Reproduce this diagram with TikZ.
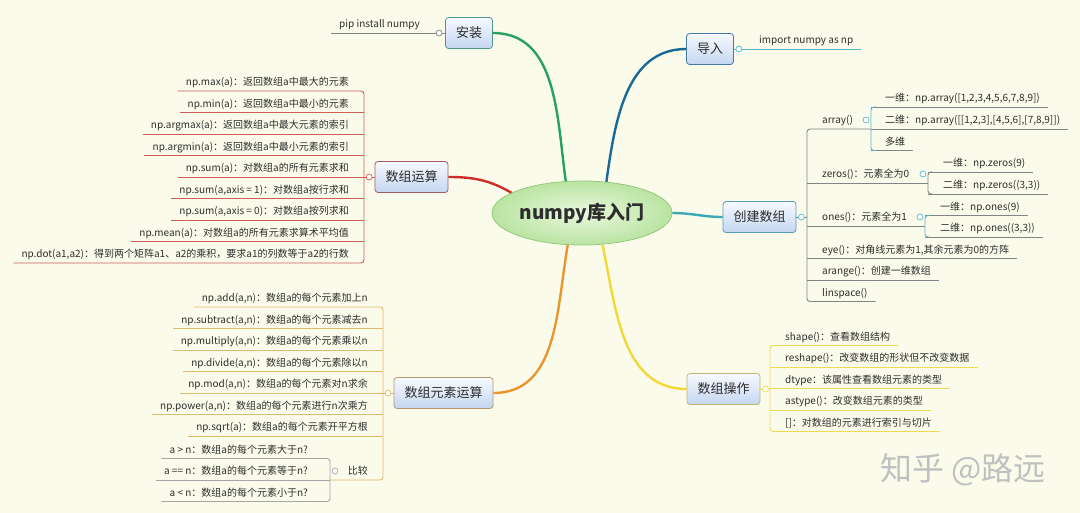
\documentclass[tikz,border=0pt]{standalone}
\usepackage{fontspec}
\setmainfont{Noto Sans CJK SC}
\usetikzlibrary{shapes.geometric,calc}

\definecolor{bg}{RGB}{251,251,235}
\definecolor{txt}{RGB}{45,45,45}
\definecolor{boxtop}{RGB}{247,250,255}
\definecolor{boxbot}{RGB}{196,214,240}
\definecolor{boxedge}{RGB}{120,145,185}
\definecolor{rootedge}{RGB}{150,200,128}
\definecolor{rootin}{RGB}{234,248,222}
\definecolor{rootout}{RGB}{186,228,162}
\definecolor{cInstall}{RGB}{40,160,95}
\definecolor{cImport}{RGB}{25,105,150}
\definecolor{cCreate}{RGB}{55,170,180}
\definecolor{cCalc}{RGB}{205,45,40}
\definecolor{cElem}{RGB}{235,150,45}
\definecolor{cOps}{RGB}{245,215,55}
\definecolor{lGray}{RGB}{130,132,135}
\definecolor{lLight}{RGB}{165,165,165}
\definecolor{lTeal}{RGB}{85,185,200}
\definecolor{lRed}{RGB}{205,95,85}
\definecolor{lTan}{RGB}{222,186,108}
\definecolor{lYellow}{RGB}{240,218,85}
\definecolor{wmark}{RGB}{192,192,192}

\tikzset{
  root/.style={ellipse, draw=rootedge, line width=0.8pt, inner color=rootin, outer color=rootout,
    minimum width=180pt, minimum height=64pt, inner sep=0pt, font=\fontsize{19}{22}\selectfont\bfseries},
  topic/.style={draw=#1!55!boxedge, line width=0.8pt, rounded corners=3pt, top color=boxtop, bottom color=boxbot,
    minimum height=31pt, inner xsep=10.5pt, font=\fontsize{13}{15}\selectfont},
  leaf/.style={inner xsep=8pt, inner ysep=3pt, text height=8pt, text depth=2pt},
  fold/.style={circle, draw=#1, fill=white, line width=0.7pt, inner sep=0pt, minimum size=6pt},
  branch/.style={draw=#1, line width=2.4pt},
  twig/.style={draw=#1, line width=0.9pt, rounded corners=3pt},
}

\begin{document}
\begin{tikzpicture}[x=1pt, y=-1pt, text=txt, font=\fontsize{10}{12}\selectfont]
% background
\fill[bg] (0,0) rectangle (1080,513);
\useasboundingbox (0,0) rectangle (1080,513);
% bracket points
\path
(364,177) coordinate (calcBr)
(383,393) coordinate (elemBr)
(330,480) coordinate (cmpBr)
(807,217) coordinate (createBr)
(871,129) coordinate (arrBr)
(928,183) coordinate (zerBr)
(925,226) coordinate (oneBr)
(770,389) coordinate (opsBr);

% central topic and main topics
\node[root] (root) at (582,213) {numpy库入门};
\node[topic=cInstall] (install) at (469,33) {安装};
\node[topic=cImport] (import) at (710,49) {导入};
\node[topic=cCalc] (calc) at (411.5,177) {数组运算};
\node[topic=cElem] (elem) at (443.5,393) {数组元素运算};
\node[topic=cCreate] (create) at (759.5,217) {创建数组};
\node[topic=cOps] (ops) at (723.5,389) {数组操作};

% main branches
\draw[branch=cInstall] (root.117) to[out=98,in=0] (install.east);
\draw[branch=cImport] (root.52) to[out=82,in=180] (import.west);
\draw[branch=cCalc] (root.164) to[out=150,in=0] (calc.east);
\draw[branch=cElem] (root.246) to[out=260,in=0] (elem.east);
\draw[branch=cCreate] (root.east) to[out=0,in=180] (create.west);
\draw[branch=cOps] (root.303) to[out=282,in=180] (ops.west);

% install / import
\node[leaf, anchor=south west] (pip) at (331,33) {pip install numpy};
\node[leaf, anchor=south west] (imp) at (751,49) {import numpy as np};
\draw[twig=lGray] (pip.south west) -- (install.west);
\draw[twig=lTeal] (import.east) -- (imp.south east);

% array operations
\foreach \t [count=\i from 0] in {{np.max(a)：返回数组a中最大的元素}, {np.min(a)：返回数组a中最小的元素},
  {np.argmax(a)：返回数组a中最大元素的索引}, {np.argmin(a)：返回数组a中最小元素的索引},
  {np.sum(a)：对数组a的所有元素求和}, {np.sum(a,axis = 1)：对数组a按行求和},
  {np.sum(a,axis = 0)：对数组a按列求和}, {np.mean(a)：对数组a的所有元素求算术平均值},
  {np.dot(a1,a2)：得到两个矩阵a1、a2的乘积，要求a1的列数等于a2的行数}}
  \node[leaf, anchor=south east] (calc\i) at (357,{91+21.5*\i}) {\t};
\draw[twig=lRed] (calc0.south west) -- (calcBr |- calc0.south) -- (calcBr |- calc8.south) -- (calc8.south west);
\foreach \i in {1,...,7} \draw[twig=lRed] (calc\i.south west) -- (calcBr |- calc\i.south);
\draw[twig=lRed] (calc.west) -- (calcBr);

% element-wise operations
\foreach \t [count=\i from 0] in {{np.add(a,n)：数组a的每个元素加上n}, {np.subtract(a,n)：数组a的每个元素减去n},
  {np.multiply(a,n)：数组a的每个元素乘以n}, {np.divide(a,n)：数组a的每个元素除以n},
  {np.mod(a,n)：数组a的每个元素对n求余}, {np.power(a,n)：数组a的每个元素进行n次乘方},
  {np.sqrt(a)：数组a的每个元素开平方根}}
  \node[leaf, anchor=south east] (elem\i) at (376,{307+21.5*\i}) {\t};
\node[leaf, anchor=south east] (cmp) at (376,480) {比较};
\foreach \t [count=\i from 0] in {{a > n：数组a的每个元素大于n?}, {a == n：数组a的每个元素等于n?}, {a < n：数组a的每个元素小于n?}}
  \node[leaf, anchor=south east] (cmp\i) at (316,{458.5+21.5*\i}) {\t};
\draw[twig=lTan] (elem0.south west) -- (elemBr |- elem0.south) -- (elemBr |- cmp.south) -- (cmpBr);
\foreach \i in {1,...,6} \draw[twig=lTan] (elem\i.south west) -- (elemBr |- elem\i.south);
\draw[twig=lTan] (elem.west) -- (elemBr);
\draw[twig=lLight] (cmp0.south west) -- (cmpBr |- cmp0.south) -- (cmpBr |- cmp2.south) -- (cmp2.south west);
\draw[twig=lLight] (cmp1.south west) -- (cmpBr);

% creating arrays
\node[leaf, anchor=south west] (arr) at (814,129) {array()};
\node[leaf, anchor=south west] (zeros) at (814,183) {zeros()：元素全为0};
\node[leaf, anchor=south west] (ones) at (814,226) {ones()：元素全为1};
\node[leaf, anchor=south west] (eye) at (814,258.5) {eye()：对角线元素为1,其余元素为0的方阵};
\node[leaf, anchor=south west] (arange) at (814,280) {arange()：创建一维数组};
\node[leaf, anchor=south west] (linsp) at (814,301.5) {linspace()};
\node[leaf, anchor=south west] (arr1) at (877,107) {一维：np.array([1,2,3,4,5,6,7,8,9])};
\node[leaf, anchor=south west] (arr2) at (877,129) {二维：np.array([[1,2,3],[4,5,6],[7,8,9]])};
\node[leaf, anchor=south west] (arr3) at (877,150.5) {多维};
\node[leaf, anchor=south west] (zer1) at (935,172) {一维：np.zeros(9)};
\node[leaf, anchor=south west] (zer2) at (935,194) {二维：np.zeros((3,3))};
\node[leaf, anchor=south west] (one1) at (932,215.5) {一维：np.ones(9)};
\node[leaf, anchor=south west] (one2) at (932,237) {二维：np.ones((3,3))};
\draw[twig=lGray] (arrBr) -- (createBr |- arr.south) -- (createBr |- linsp.south) -- (linsp.south east);
\draw[twig=lGray] (createBr |- zeros.south) -- (zerBr);
\draw[twig=lGray] (createBr |- ones.south) -- (oneBr);
\foreach \n in {eye, arange} \draw[twig=lGray] (createBr |- \n.south) -- (\n.south east);
\draw[twig=lGray] (create.east) -- (createBr);
\foreach \n/\b in {arr1/arrBr, arr2/arrBr, arr3/arrBr, zer1/zerBr, zer2/zerBr, one1/oneBr, one2/oneBr}
  \draw[twig=lGray] (\b |- \n.south) -- (\n.south east);
\draw[twig=lTeal] ($(arrBr |- arr1.south)+(5,0)$) -- (arrBr |- arr1.south) -- (arrBr |- arr3.south) -- +(5,0);
\draw[twig=lGray] ($(zerBr |- zer1.south)+(5,0)$) -- (zerBr |- zer1.south) -- (zerBr |- zer2.south) -- +(5,0);
\draw[twig=lTeal] ($(oneBr |- one1.south)+(5,0)$) -- (oneBr |- one1.south) -- (oneBr |- one2.south) -- +(5,0);

% array handling
\foreach \t [count=\i from 0] in {{shape()：查看数组结构}, {reshape()：改变数组的形状但不改变数据},
  {dtype：该属性查看数组元素的类型}, {astype()：改变数组元素的类型}, {[]：对数组的元素进行索引与切片}}
  \node[leaf, anchor=south west] (ops\i) at (777,{345.5+21.5*\i}) {\t};
\draw[twig=lYellow] (ops0.south east) -- (opsBr |- ops0.south) -- (opsBr |- ops4.south) -- (ops4.south east);
\foreach \i in {1,2,3} \draw[twig=lYellow] (opsBr |- ops\i.south) -- (ops\i.south east);
\draw[twig=lYellow] (ops.east) -- (opsBr);

% fold markers
\node[fold=lGray] (installFold) at ([xshift=-6pt]install.west) {};
\node[fold=lTeal] (importFold) at ([xshift=5pt]import.east) {};
\node[fold=lRed] (calcFold) at ([xshift=-5.5pt]calc.west) {};
\node[fold=lTan] (elemFold) at ([xshift=-5.5pt]elem.west) {};
\node[fold=lTeal] (createFold) at ([xshift=5pt]create.east) {};
\node[fold=lYellow] (opsFold) at ([xshift=5pt]ops.east) {};
\node[fold=lLight] (cmpFold) at (335,471) {};
\node[fold=lTeal] (arrFold) at (866,120) {};
\node[fold=lTeal] (zerFold) at (923,174) {};
\node[fold=lTeal] (oneFold) at (920,217) {};

% watermark
\node[text=wmark, font=\fontsize{32}{36}\selectfont] (mark) at (963,470) {知乎 @路远};
\end{tikzpicture}
\end{document}
